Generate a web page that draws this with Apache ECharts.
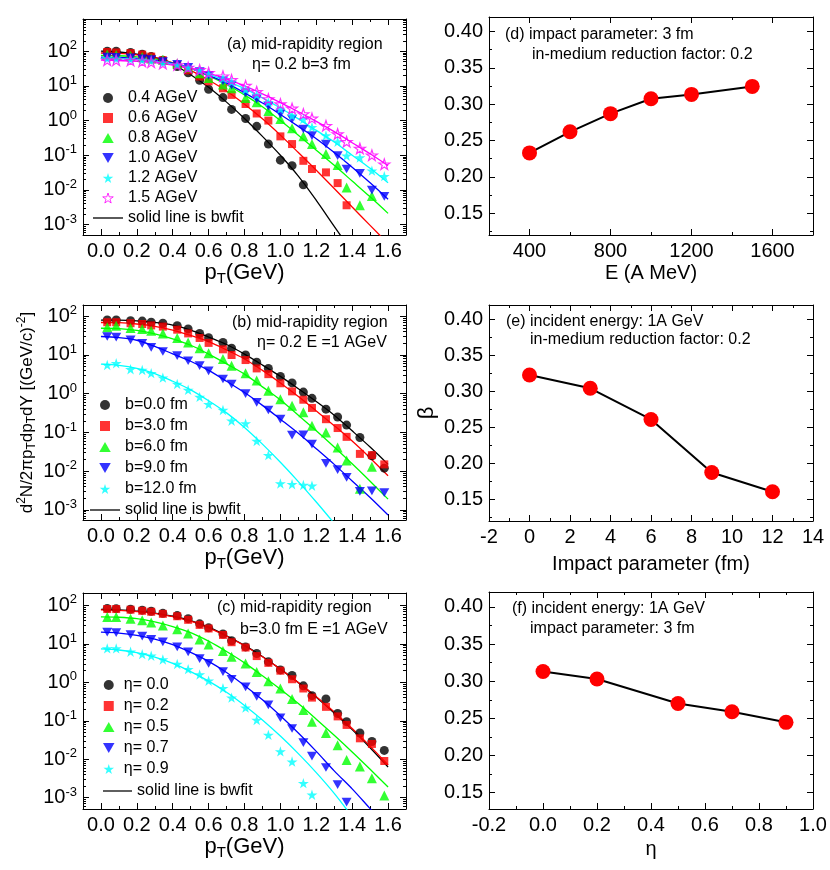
<!DOCTYPE html>
<html><head><meta charset="utf-8">
<script src="https://cdn.jsdelivr.net/npm/echarts/dist/echarts.min.js"></script>
<style>html,body{margin:0;padding:0;background:#fff}#c{width:830px;height:870px}</style>
</head><body><div id="c"></div>
<script>
const FONT = '"Liberation Sans", Arial, Helvetica, sans-serif';

// ---------- shared x (pT) bins and fit sample points ----------
const ptBins = [0.035, 0.085, 0.165, 0.23, 0.28, 0.345, 0.425, 0.486, 0.55, 0.60, 0.68, 0.728, 0.806, 0.868, 0.933, 1.0, 1.065, 1.128, 1.176, 1.254, 1.319, 1.369, 1.443, 1.51, 1.579];
const fitX = [0, 0.1, 0.2, 0.3, 0.4, 0.5, 0.6, 0.7, 0.8, 0.9, 1.0, 1.1, 1.2, 1.3, 1.4, 1.5, 1.6];
const ptTicks = [0, 0.2, 0.4, 0.6, 0.8, 1.0, 1.2, 1.4, 1.6];
const ptMinor = [0.1, 0.3, 0.5, 0.7, 0.9, 1.1, 1.3, 1.5];

// ---------- panel (a): energies ----------
const aNames = ['0.4 AGeV', '0.6 AGeV', '0.8 AGeV', '1.0 AGeV', '1.2 AGeV', '1.5 AGeV'];
const aE04 = [100, 100, 92, 82, 70, 55, 36, 24, 14.5, 8, 4.6, 2.1, 1.15, 0.68, 0.21, 0.072, 0.05, 0.014];
const aE06 = [95, 92, 88, 80, 70, 55, 40, 28, 18.6, 13.5, 8.5, 5.5, 3.0, 1.6, 1.0, 0.35, 0.21, 0.069, 0.04, 0.032, 0.0157, 0.0036];
const aE08 = [80, 78, 74, 68, 62, 57, 44, 34, 23, 17, 11, 8.5, 4.5, 3.4, 1.9, 1.1, 0.6, 0.35, 0.21, 0.108, 0.052, 0.0117, 0.0036, 0.0067];
const aE10 = [68, 67, 64, 60, 57, 50, 42, 34, 26, 20, 14, 10.5, 6.3, 4.2, 2.6, 1.55, 1.1, 0.57, 0.37, 0.21, 0.097, 0.04, 0.03, 0.0098, 0.0065];
const aE12 = [62, 61, 59, 56, 53, 47, 41, 34, 28, 22, 16.5, 13, 7.8, 5.5, 3.4, 2.15, 1.38, 1.1, 0.64, 0.37, 0.245, 0.097, 0.086, 0.036, 0.025];
const aE15 = [55, 55, 54, 51, 48, 44, 40, 34, 29, 24, 19, 15, 10.2, 6.8, 4.2, 3.0, 2.25, 1.55, 1.16, 0.71, 0.41, 0.245, 0.157, 0.10, 0.055];
const aFit04 = [100, 95, 83, 66, 42, 21, 9.1, 3.4, 1.15, 0.35, 0.1, 0.025, 0.005, 0.00089, 0.00016];
const aFit06 = [89, 87, 79, 66, 46, 28, 14.8, 7.1, 2.95, 1.12, 0.38, 0.12, 0.037, 0.011, 0.0032, 0.00095, 0.00028];
const aFit08 = [76, 74, 69, 60, 46, 32, 19.5, 11, 5.5, 2.5, 1.0, 0.38, 0.14, 0.051, 0.018, 0.0063, 0.0021];
const aFit10 = [68, 66, 62, 55, 45, 32, 20, 12, 6.3, 3.2, 1.5, 0.68, 0.3, 0.12, 0.045, 0.016, 0.0054];
const aFit12 = [62, 60, 58, 51, 43, 32, 22, 14, 8.3, 4.5, 2.3, 1.12, 0.52, 0.24, 0.1, 0.042, 0.016];
const aFit15 = [55, 54, 51, 47, 40, 32, 23, 16, 10, 5.9, 3.3, 1.8, 0.95, 0.48, 0.23, 0.11, 0.05];

// ---------- panel (b): impact parameters ----------
const bNames = ['b=0.0 fm', 'b=3.0 fm', 'b=6.0 fm', 'b=9.0 fm', 'b=12.0 fm'];
const bB0 = [80, 80, 77, 75, 70, 66, 57, 47, 36, 28, 21, 15, 10, 6.5, 4.5, 2.8, 1.9, 1.1, 0.76, 0.4, 0.25, 0.155, 0.074, 0.025, 0.012];
const bB3 = [70, 70, 66, 63, 58, 54, 45, 36, 27.5, 20.5, 14, 10, 7.4, 4.5, 3.2, 1.86, 1.15, 0.7, 0.43, 0.22, 0.13, 0.077, 0.028, 0.026, 0.015];
const bB6 = [52, 57, 50, 47, 42, 36, 27.6, 21, 15, 11, 7.9, 5.3, 3.4, 2.2, 1.2, 0.72, 0.49, 0.33, 0.15, 0.1, 0.041, 0.019, 0.0035, 0.013];
const bB9 = [30, 29, 24.5, 20, 15.8, 12.3, 9.6, 7.1, 5.3, 3.9, 2.4, 1.77, 1.0, 0.6, 0.38, 0.22, 0.085, 0.087, 0.05, 0.016, 0.011, 0.0069, 0.003, 0.0031, 0.0028];
const bB12 = [5.5, 6.1, 4.3, 4.1, 3.4, 2.6, 1.78, 1.26, 0.83, 0.54, 0.38, 0.2, 0.17, 0.06, 0.026, 0.0048, 0.0046, 0.0044, 0.0042];
const bFit0 = [79, 79, 76, 69, 59, 44, 29, 18.6, 10.5, 5.5, 2.8, 1.35, 0.63, 0.28, 0.11, 0.042, 0.015];
const bFit3 = [69, 68, 63, 55, 44, 32, 22, 13.5, 7.9, 4.0, 1.9, 0.85, 0.36, 0.15, 0.06, 0.022, 0.0076];
const bFit6 = [49, 48, 43, 35, 26, 17.8, 10.5, 5.9, 3.2, 1.5, 0.69, 0.28, 0.11, 0.042, 0.0155, 0.0055, 0.0019];
const bFit9 = [30, 28, 24, 16.6, 10.7, 6.9, 4.0, 2.1, 1.07, 0.5, 0.22, 0.095, 0.038, 0.015, 0.0056, 0.0021, 0.00074];
const bFit12 = [5.8, 5.4, 4.5, 3.3, 2.1, 1.26, 0.66, 0.32, 0.135, 0.05, 0.017, 0.0054, 0.0016, 0.00045];

// ---------- panel (c): rapidities ----------
const cNames = ['η= 0.0', 'η= 0.2', 'η= 0.5', 'η= 0.7', 'η= 0.9'];
const cEta00 = [83, 82, 79, 75, 70, 62, 54, 45, 33, 26, 18, 12, 8.3, 5.6, 3.4, 2.1, 1.5, 0.81, 0.45, 0.37, 0.155, 0.095, 0.048, 0.029, 0.017];
const cEta02 = [80, 80, 77, 72, 68, 60, 52, 42, 31, 25, 17, 11, 8, 4.8, 3.2, 2.0, 1.2, 0.69, 0.4, 0.23, 0.13, 0.078, 0.035, 0.025, 0.009];
const cEta05 = [50, 50, 45, 41, 35.6, 30, 24, 18.6, 13, 9.6, 6.5, 4.6, 3.1, 1.86, 1.07, 0.69, 0.37, 0.19, 0.095, 0.048, 0.023, 0.0096, 0.0065, 0.0032, 0.00115];
const cEta07 = [20, 19.6, 17.4, 15.8, 13, 11.2, 8.3, 6.2, 4.1, 3.1, 1.9, 1.2, 0.76, 0.43, 0.26, 0.12, 0.063, 0.027, 0.012, 0.0061, 0.0022, 0.00077];
const cEta09 = [7.6, 7.6, 6.2, 5.4, 4.9, 3.9, 3.0, 2.2, 1.6, 1.1, 0.7, 0.4, 0.22, 0.105, 0.043, 0.016, 0.0087, 0.0024, 0.0012];
const cFit00 = [78, 76, 71, 63, 52, 40, 27, 16.2, 9.1, 4.7, 2.2, 0.98, 0.41, 0.16, 0.059, 0.02, 0.0063];
const cFit02 = [76, 74, 69, 62, 51, 39, 26, 15.8, 8.9, 4.6, 2.2, 0.98, 0.42, 0.17, 0.063, 0.022, 0.0071];
const cFit05 = [50, 49, 45, 37, 28, 19.5, 11.7, 6.3, 3.2, 1.48, 0.66, 0.28, 0.11, 0.042, 0.0155, 0.0055, 0.0019];
const cFit07 = [20, 19, 16.6, 13.2, 9.5, 6.0, 3.5, 1.8, 0.83, 0.35, 0.135, 0.048, 0.016, 0.005, 0.0017, 0.00052, 0.00016];
const cFit09 = [7.4, 6.9, 5.9, 4.5, 3.1, 1.9, 1.07, 0.55, 0.25, 0.105, 0.04, 0.014, 0.0045, 0.0013, 0.00032];

// ---------- panels (d), (e), (f): beta ----------
const dEnergy = [400, 600, 800, 1000, 1200, 1500];
const dBeta = [0.233, 0.262, 0.287, 0.3075, 0.3135, 0.3245];
const eImpact = [0, 3, 6, 9, 12];
const eBeta = [0.3227, 0.3043, 0.261, 0.1874, 0.1607];
const fEta = [0, 0.2, 0.5, 0.7, 0.9];
const fBeta = [0.313, 0.303, 0.270, 0.2588, 0.2446];

const betaTicks = [0.15, 0.20, 0.25, 0.30, 0.35, 0.40];
const betaMinor = [0.125, 0.175, 0.225, 0.275, 0.325, 0.375];
const dTicks = [400, 800, 1200, 1600];
const dMinor = [600, 1000, 1400];
const eTicks = [-2, 0, 2, 4, 6, 8, 10, 12, 14];
const eMinor = [-1, 1, 3, 5, 7, 9, 11, 13];
const fTicks = [-0.2, 0, 0.2, 0.4, 0.6, 0.8, 1.0];
const fMinor = [-0.1, 0.1, 0.3, 0.5, 0.7, 0.9];

// ---------- styling ----------
const colors5 = ['#000000', '#ff0000', '#00ff00', '#0000ff', '#00ffff', '#ff00ff'];
const STAR = 'path://M50,0 L61,35 L98,35 L68,57 L79,91 L50,70 L21,91 L32,57 L2,35 L39,35 Z';
const DOWN = 'path://M0,0 L100,0 L50,87 Z';
const UP = 'path://M50,0 L100,87 L0,87 Z';
const SQUARE = 'path://M0,0 L10,0 L10,10 L0,10 Z';
const LINEICON = 'path://M0,0 L30,0 L30,1.3 L0,1.3 Z';
const syms = ['circle', 'rect', 'triangle', DOWN, STAR, STAR];
const legendIcons = ['circle', SQUARE, UP, DOWN, STAR, STAR];
const symSize = [9, 8, 10, 10, 11, 11];

const grids = [
  {left: 83, top: 19, width: 323, height: 216},
  {left: 83, top: 305, width: 323, height: 215},
  {left: 83, top: 593, width: 323, height: 216},
  {left: 489, top: 17, width: 324, height: 218},
  {left: 489, top: 305, width: 324, height: 216},
  {left: 489, top: 592, width: 324, height: 217}
];

const xAxis = [], yAxis = [];
const LINE = {show: true, onZero: false, lineStyle: {color: '#000', width: 1}};
const NOLINE = {show: false, onZero: false};
const subRich = {
  a: {fontSize: 22, fontFamily: FONT, color: '#000', lineHeight: 26},
  t: {fontSize: 15, fontFamily: FONT, color: '#000', lineHeight: 15, verticalAlign: 'bottom'}
};
function plainName(size) { return {fontSize: size, fontFamily: FONT, color: '#000', lineHeight: 24}; }

function addX(grid, min, max, major, minor, fmt, name, nameGap, nameStyle) {
  const idx = xAxis.length;
  const c = {type: 'value', gridIndex: grid, min: min, max: max, splitLine: {show: false}};
  xAxis.push(Object.assign({}, c, {position: 'bottom', axisLine: LINE,
    axisTick: {show: true, inside: true, length: 6, customValues: major, lineStyle: {color: '#000'}},
    axisLabel: {show: true, customValues: major, formatter: fmt, margin: 6, fontSize: 20, color: '#000', fontFamily: FONT, showMinLabel: true, showMaxLabel: true},
    name: name, nameLocation: 'middle', nameGap: nameGap, nameTextStyle: nameStyle}));
  xAxis.push(Object.assign({}, c, {position: 'bottom', axisLine: NOLINE,
    axisTick: {show: true, inside: true, length: 3, customValues: minor, lineStyle: {color: '#000'}}, axisLabel: {show: false}}));
  xAxis.push(Object.assign({}, c, {position: 'top', axisLine: LINE,
    axisTick: {show: true, inside: true, length: 6, customValues: major, lineStyle: {color: '#000'}}, axisLabel: {show: false}}));
  xAxis.push(Object.assign({}, c, {position: 'top', axisLine: NOLINE,
    axisTick: {show: true, inside: true, length: 3, customValues: minor, lineStyle: {color: '#000'}}, axisLabel: {show: false}}));
  return idx;
}

function addY(grid, min, max, major, minor, fmt, name, nameGap, nameStyle) {
  const idx = yAxis.length;
  const c = {type: 'value', gridIndex: grid, min: min, max: max, splitLine: {show: false}};
  yAxis.push(Object.assign({}, c, {position: 'left', axisLine: LINE,
    axisTick: {show: true, inside: true, length: 6, customValues: major, lineStyle: {color: '#000'}},
    axisLabel: {show: true, customValues: major, formatter: fmt, margin: 6, fontSize: 20, color: '#000', fontFamily: FONT, showMinLabel: true, showMaxLabel: true},
    name: name || '', nameLocation: 'middle', nameGap: nameGap || 0, nameRotate: 90, nameTextStyle: nameStyle}));
  yAxis.push(Object.assign({}, c, {position: 'left', axisLine: NOLINE,
    axisTick: {show: true, inside: true, length: 3, customValues: minor, lineStyle: {color: '#000'}}, axisLabel: {show: false}}));
  yAxis.push(Object.assign({}, c, {position: 'right', axisLine: LINE,
    axisTick: {show: true, inside: true, length: 6, customValues: major, lineStyle: {color: '#000'}}, axisLabel: {show: false}}));
  yAxis.push(Object.assign({}, c, {position: 'right', axisLine: NOLINE,
    axisTick: {show: true, inside: true, length: 3, customValues: minor, lineStyle: {color: '#000'}}, axisLabel: {show: false}}));
  return idx;
}

function logFmt(v) {
  const e = Math.log10(v), r = Math.round(e);
  if (Math.abs(e - r) > 1e-6) return '';
  return '{b|10}{s|' + r + '}';
}
const logRich = {
  b: {fontSize: 20, fontFamily: FONT, color: '#000', lineHeight: 24},
  s: {fontSize: 13, fontFamily: FONT, color: '#000', lineHeight: 13, verticalAlign: 'top'}
};

function addLogY(grid, min, max, name, nameGap, nameStyle) {
  const idx = yAxis.length;
  const lmin = Math.log10(min), lmax = Math.log10(max);
  const minor = [];
  for (let n = Math.floor(lmin); n <= Math.ceil(lmax); n++) {
    for (let k = 2; k <= 9; k++) {
      const v = n + Math.log10(k);
      if (v > lmin && v < lmax) minor.push(v);
    }
  }
  const lc = {type: 'log', logBase: 10, gridIndex: grid, min: min, max: max, splitLine: {show: false}};
  const vc = {type: 'value', gridIndex: grid, min: lmin, max: lmax, splitLine: {show: false}};
  yAxis.push(Object.assign({}, lc, {position: 'left', axisLine: LINE,
    axisTick: {show: true, inside: true, length: 6, lineStyle: {color: '#000'}},
    axisLabel: {show: true, formatter: logFmt, rich: logRich, margin: 6, showMinLabel: true, showMaxLabel: true},
    name: name || '', nameLocation: 'middle', nameGap: nameGap || 0, nameRotate: 90, nameTextStyle: nameStyle}));
  yAxis.push(Object.assign({}, vc, {position: 'left', axisLine: NOLINE,
    axisTick: {show: true, inside: true, length: 3, customValues: minor, lineStyle: {color: '#000'}}, axisLabel: {show: false}}));
  yAxis.push(Object.assign({}, lc, {position: 'right', axisLine: LINE,
    axisTick: {show: true, inside: true, length: 6, lineStyle: {color: '#000'}}, axisLabel: {show: false}}));
  yAxis.push(Object.assign({}, vc, {position: 'right', axisLine: NOLINE,
    axisTick: {show: true, inside: true, length: 3, customValues: minor, lineStyle: {color: '#000'}}, axisLabel: {show: false}}));
  return idx;
}

const ptFmt = v => v.toFixed(1);
const ptName = '{a|p}{t|T}{a|(GeV)}';
const ptStyle = {rich: subRich};

const yTitle = '{a|d}{p|2}{a|N/2πp}{b|T}{a|dp}{b|T}{a|dY [(GeV/c)}{p|-2}{a|]}';
const yTitleStyle = {rich: {
  a: {fontSize: 17, fontFamily: FONT, color: '#000', lineHeight: 22},
  p: {fontSize: 12, fontFamily: FONT, color: '#000', lineHeight: 12, verticalAlign: 'top'},
  b: {fontSize: 12, fontFamily: FONT, color: '#000', lineHeight: 12, verticalAlign: 'bottom'}
}};

// axes per panel
const xa = addX(0, -0.1, 1.7, ptTicks, ptMinor, ptFmt, ptName, 20, ptStyle);
const ya = addLogY(0, 5e-4, 850);
const xb = addX(1, -0.1, 1.7, ptTicks, ptMinor, ptFmt, ptName, 20, ptStyle);
const yb = addLogY(1, 5.5e-4, 195, yTitle, 45, yTitleStyle);
const xc = addX(2, -0.1, 1.7, ptTicks, ptMinor, ptFmt, ptName, 20, ptStyle);
const yc = addLogY(2, 5.1e-4, 209);
const xd = addX(3, 200, 1800, dTicks, dMinor, v => String(v), 'E (A MeV)', 18, plainName(20));
const yd = addY(3, 0.12, 0.42, betaTicks, betaMinor, v => v.toFixed(2));
const xe = addX(4, -2, 14, eTicks, eMinor, v => String(v), 'Impact parameter (fm)', 31, plainName(20));
const ye = addY(4, 0.12, 0.42, betaTicks, betaMinor, v => v.toFixed(2), 'β', 50, plainName(22));
const xf = addX(5, -0.2, 1.0, fTicks, fMinor, v => v.toFixed(1), 'η', 28, plainName(20));
const yf = addY(5, 0.128, 0.42, betaTicks, betaMinor, v => v.toFixed(2));

const series = [];
function pairs(xs, ys) { return ys.map((y, i) => [xs[i], y]); }
function addFit(xi, yi, ys, color) {
  series.push({type: 'line', xAxisIndex: xi, yAxisIndex: yi, data: pairs(fitX, ys), smooth: 0.35,
    symbol: 'none', showSymbol: false, color: color, lineStyle: {color: color, width: 1.3}, silent: true, z: 2, clip: true});
}
function addPts(xi, yi, name, ys, k) {
  const hollow = (k === 5);
  series.push({type: 'scatter', name: name, xAxisIndex: xi, yAxisIndex: yi, data: pairs(ptBins, ys),
    symbol: syms[k], symbolSize: symSize[k], symbolKeepAspect: true, color: colors5[k],
    itemStyle: hollow ? {color: 'rgba(255,255,255,0)', borderColor: colors5[k], borderWidth: 1.2} : {color: colors5[k]},
    z: 3, clip: true});
}

// panel a
[aFit04, aFit06, aFit08, aFit10, aFit12, aFit15].forEach((f, k) => addFit(xa, ya, f, colors5[k]));
[aE04, aE06, aE08, aE10, aE12, aE15].forEach((d, k) => addPts(xa, ya, aNames[k], d, k));
// panel b
[bFit0, bFit3, bFit6, bFit9, bFit12].forEach((f, k) => addFit(xb, yb, f, colors5[k]));
[bB0, bB3, bB6, bB9, bB12].forEach((d, k) => addPts(xb, yb, bNames[k], d, k));
// panel c
[cFit00, cFit02, cFit05, cFit07, cFit09].forEach((f, k) => addFit(xc, yc, f, colors5[k]));
[cEta00, cEta02, cEta05, cEta07, cEta09].forEach((d, k) => addPts(xc, yc, cNames[k], d, k));
// legend-only line entry
series.push({type: 'line', name: 'solid line is bwfit', xAxisIndex: xa, yAxisIndex: ya, data: [], symbol: 'none',
  showSymbol: false, color: '#000', lineStyle: {color: '#000', width: 1.3}});

// beta panels
function betaSeries(xi, yi, xs, ys) {
  series.push({type: 'line', xAxisIndex: xi, yAxisIndex: yi, data: pairs(xs, ys), symbol: 'circle', symbolSize: 15,
    showSymbol: true, lineStyle: {color: '#000', width: 2}, itemStyle: {color: '#ff0000'}, z: 3});
}
betaSeries(xd, yd, dEnergy, dBeta);
betaSeries(xe, ye, eImpact, eBeta);
betaSeries(xf, yf, fEta, fBeta);

const legendText = {fontSize: 16, color: '#000', fontFamily: FONT};
const fitEntry = {name: 'solid line is bwfit', icon: LINEICON};
function legItems(names) {
  return names.map((n, k) => {
    const it = {name: n, icon: legendIcons[k]};
    if (k === 5) it.itemStyle = {color: 'rgba(255,255,255,0)', borderColor: colors5[k], borderWidth: 1};
    return it;
  });
}
function lg(extra) {
  return Object.assign({orient: 'vertical', itemWidth: 30, itemHeight: 10, textStyle: legendText,
    selectedMode: false, symbolKeepAspect: true, padding: 0}, extra);
}
const legend = [
  lg({data: legItems(aNames).concat([fitEntry]), left: 93, top: 90, itemGap: 4}),
  lg({data: legItems(bNames).concat([fitEntry]), left: 90, top: 397, itemGap: 5}),
  lg({data: legItems(cNames), left: 103, top: 677, itemWidth: 20, itemGap: 5}),
  lg({data: [fitEntry], left: 103, top: 783, itemWidth: 29})
];

function note(x, y, text) {
  return {type: 'text', x: x, y: y, silent: true,
    style: {text: text, font: '16px ' + FONT, fill: '#000', textAlign: 'left', textVerticalAlign: 'middle', align: 'left', verticalAlign: 'middle'}};
}
const graphic = [
  note(227, 45, '(a) mid-rapidity region'),
  note(252, 65, 'η= 0.2 b=3 fm'),
  note(232, 323, '(b) mid-rapidity region'),
  note(257, 343, 'η= 0.2 E =1 AGeV'),
  note(217, 608, '(c) mid-rapidity region'),
  note(240, 630, 'b=3.0 fm E =1 AGeV'),
  note(505, 35, '(d) impact parameter: 3 fm'),
  note(532, 55, 'in-medium reduction factor: 0.2'),
  note(506, 322, '(e) incident energy: 1A GeV'),
  note(530, 340, 'in-medium reduction factor: 0.2'),
  note(512, 609, '(f) incident energy: 1A GeV'),
  note(530, 629, 'impact parameter: 3 fm')
];

const chart = echarts.init(document.getElementById('c'), null, {renderer: 'canvas'});
chart.setOption({
  animation: false,
  backgroundColor: '#fff',
  textStyle: {fontFamily: FONT},
  grid: grids,
  xAxis: xAxis,
  yAxis: yAxis,
  legend: legend,
  series: series,
  graphic: graphic
});
</script></body></html>
